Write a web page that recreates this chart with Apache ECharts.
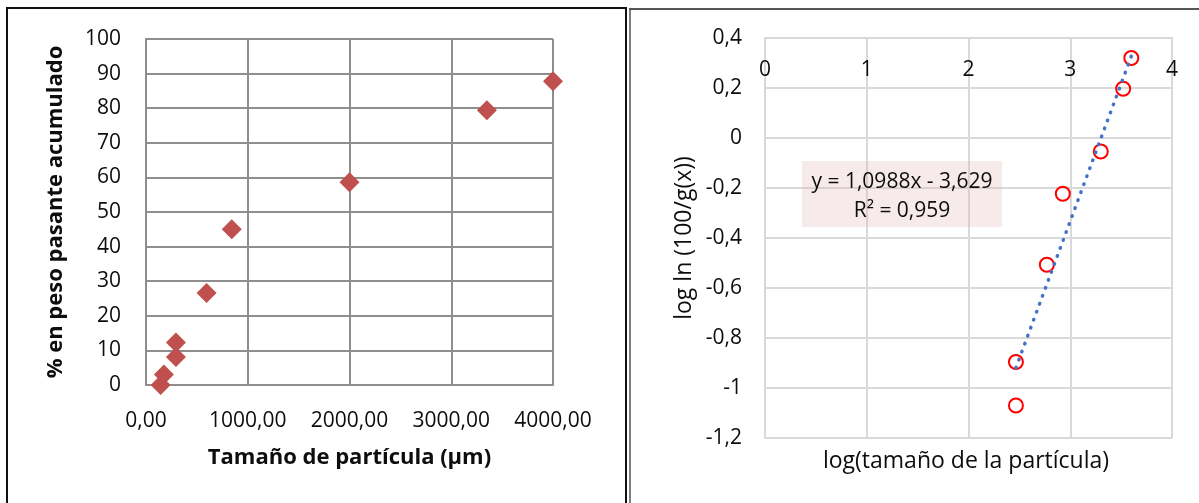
<!DOCTYPE html>
<html>
<head>
<meta charset="utf-8">
<script src="https://cdn.jsdelivr.net/npm/echarts@6/dist/echarts.min.js"></script>
<style>
html,body{margin:0;padding:0;background:#fff;}
#chart{width:1199px;height:503px;}
</style>
</head>
<body>
<div id="chart"></div>
<script>
// ---- data ----
const sizeUm = [144, 176, 294, 294, 595, 843, 2000, 3350, 4000];
const passingPct = [0, 3.0, 8.1, 12.3, 26.6, 45.0, 58.6, 79.4, 87.8];

const logSize = [2.466, 2.466, 2.77, 2.927, 3.30, 3.52, 3.60];
const logLn = [-1.07, -0.896, -0.507, -0.223, -0.054, 0.197, 0.32];

const trendX = [2.466, 3.60];
const trendY = [-0.919, 0.327];

const eqLine1 = 'y = 1,0988x - 3,629';
const eqLine2 = 'R² = 0,959';

const leftYName = '% en peso pasante acumulado';
const leftXName = 'Tamaño de partícula (µm)';
const rightYName = 'log ln (100/g(x))';
const rightXName = 'log(tamaño de la partícula)';

const FONT = 'Open Sans';
const TXT = '#0d0d0d';

function comma(v, d) {
  return (d === undefined ? String(Number(v.toFixed(1))) : v.toFixed(d)).replace('.', ',');
}

const chart = echarts.init(document.getElementById('chart'));
chart.setOption({
  animation: false,
  backgroundColor: '#fff',
  textStyle: { fontFamily: FONT },
  grid: [
    { left: 146, top: 39, width: 407, height: 346 },
    { left: 765, top: 38, width: 407, height: 400 }
  ],
  xAxis: [
    {
      gridIndex: 0, type: 'value', min: 0, max: 4000, interval: 1000,
      axisLine: { show: true, lineStyle: { color: '#8e8e8e', width: 2 } },
      axisTick: { show: false },
      splitLine: { show: true, lineStyle: { color: '#8e8e8e', width: 2 } },
      axisLabel: { formatter: v => comma(v, 2), fontSize: 21, color: TXT, margin: 26, fontFamily: FONT },
      name: leftXName, nameLocation: 'middle', nameGap: 62,
      nameTextStyle: { fontSize: 22, fontWeight: 'bold', color: TXT, fontFamily: FONT }
    },
    {
      gridIndex: 1, type: 'value', min: 0, max: 4, interval: 1, position: 'top',
      axisLine: { show: true, onZero: false, lineStyle: { color: '#d9d9d9', width: 2 } },
      axisTick: { show: false },
      splitLine: { show: true, lineStyle: { color: '#d9d9d9', width: 2 } },
      axisLabel: { inside: true, fontSize: 21, color: TXT, margin: 22, fontFamily: FONT }
    }
  ],
  yAxis: [
    {
      gridIndex: 0, type: 'value', min: 0, max: 100, interval: 10,
      axisLine: { show: true, lineStyle: { color: '#8e8e8e', width: 2 } },
      axisTick: { show: false },
      splitLine: { show: true, lineStyle: { color: '#8e8e8e', width: 2 } },
      axisLabel: { fontSize: 21, color: TXT, margin: 25, fontFamily: FONT },
      name: leftYName, nameLocation: 'middle', nameGap: 79,
      nameTextStyle: { fontSize: 22, fontWeight: 'bold', color: TXT, fontFamily: FONT }
    },
    {
      gridIndex: 1, type: 'value', min: -1.2, max: 0.4, interval: 0.2,
      axisLine: { show: true, onZero: false, lineStyle: { color: '#d9d9d9', width: 2 } },
      axisTick: { show: false },
      splitLine: { show: true, lineStyle: { color: '#d9d9d9', width: 2 } },
      axisLabel: { formatter: v => comma(v), fontSize: 21, color: TXT, margin: 23, fontFamily: FONT },
      name: rightYName, nameLocation: 'middle', nameGap: 69,
      nameTextStyle: { fontSize: 23, color: TXT, fontFamily: FONT }
    }
  ],
  series: [
    {
      type: 'scatter', xAxisIndex: 0, yAxisIndex: 0,
      symbol: 'diamond', symbolSize: 20,
      itemStyle: { color: '#c0504d', opacity: 1 },
      data: sizeUm.map((x, i) => [x, passingPct[i]])
    },
    {
      type: 'scatter', xAxisIndex: 1, yAxisIndex: 1,
      symbol: 'circle', symbolSize: 14,
      itemStyle: { color: 'rgba(255,255,255,0)', borderColor: '#ff0000', borderWidth: 2, opacity: 1 },
      data: logSize.map((x, i) => [x, logLn[i]]), z: 2
    },
    {
      type: 'line', xAxisIndex: 1, yAxisIndex: 1,
      showSymbol: false, symbol: 'none',
      lineStyle: { color: '#4472c4', width: 3.5, type: [0.5, 8], cap: 'round' },
      data: trendX.map((x, i) => [x, trendY[i]]), z: 3
    }
  ],
  graphic: [
    { type: 'line', shape: { x1: 7, y1: 8, x2: 7, y2: 503 }, style: { stroke: '#111', lineWidth: 2 } },
    { type: 'line', shape: { x1: 6, y1: 8, x2: 627, y2: 8 }, style: { stroke: '#111', lineWidth: 2 } },
    { type: 'line', shape: { x1: 626, y1: 7, x2: 626, y2: 503 }, style: { stroke: '#111', lineWidth: 2 } },
    { type: 'line', shape: { x1: 630, y1: 8, x2: 630, y2: 503 }, style: { stroke: '#7f7f7f', lineWidth: 2 } },
    { type: 'line', shape: { x1: 629, y1: 9, x2: 1199, y2: 9 }, style: { stroke: '#555', lineWidth: 2 } },
    {
      type: 'rect', shape: { x: 802, y: 161, width: 200, height: 66 },
      style: { fill: 'rgba(230,185,184,0.3)' }, z: 10
    },
    {
      type: 'text', x: 902, y: 182, z: 11,
      style: { text: eqLine1, fontSize: 21, fontFamily: FONT, fill: TXT, align: 'center', verticalAlign: 'middle' }
    },
    {
      type: 'text', x: 902, y: 211, z: 11,
      style: { text: eqLine2, fontSize: 21, fontFamily: FONT, fill: TXT, align: 'center', verticalAlign: 'middle' }
    },
    {
      type: 'text', x: 966, y: 461, z: 11,
      style: { text: rightXName, fontSize: 23, fontFamily: FONT, fill: TXT, align: 'center', verticalAlign: 'middle' }
    }
  ]
});
</script>
</body>
</html>
